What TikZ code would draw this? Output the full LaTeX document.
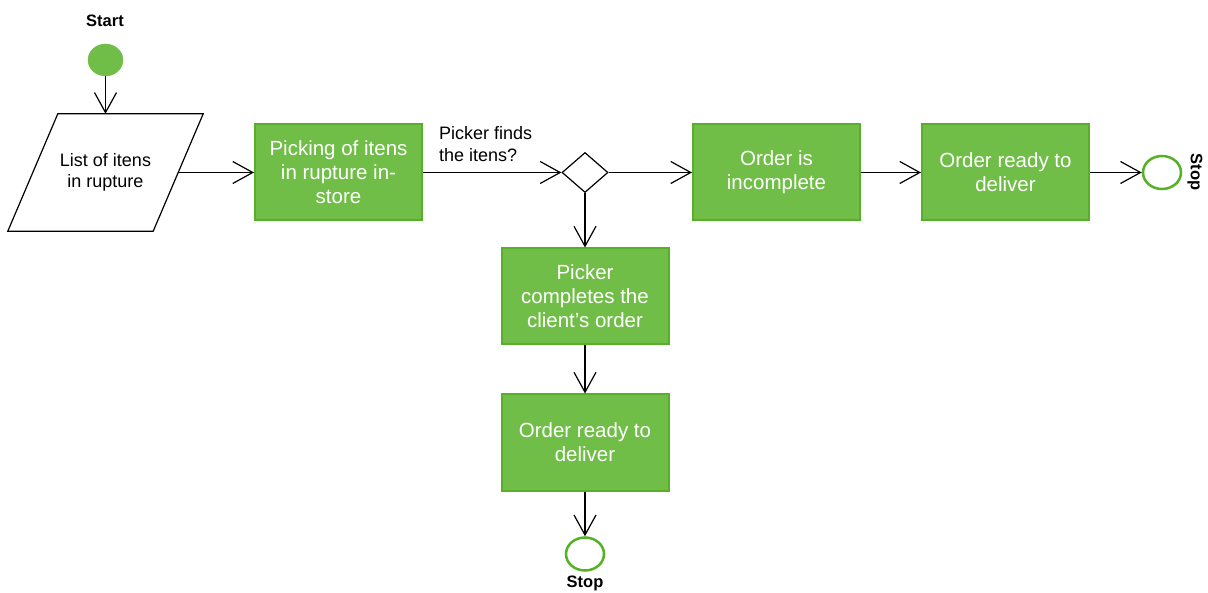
\documentclass[tikz,border=0pt]{standalone}
\usepackage{fontspec}
\setmainfont{Liberation Sans}
\usetikzlibrary{arrows.meta,shapes.geometric}
\definecolor{boxfill}{RGB}{112,190,72}
\definecolor{boxline}{RGB}{88,176,42}
\definecolor{ringline}{RGB}{84,178,36}
\tikzset{
  flow/.style={draw=black, line width=1.2pt, -{Straight Barb[length=20pt,width=22pt,line width=1.2pt]}},
  stepbox/.style={rectangle, draw=boxline, line width=2pt, fill=boxfill, text=white,
    minimum width=167pt, minimum height=96pt, inner sep=2pt, align=center,
    font=\fontsize{20.5}{24}\selectfont},
  startdot/.style={ellipse, fill=boxfill, draw=boxfill, minimum width=35pt, minimum height=32pt, inner sep=0pt},
  stopring/.style={ellipse, draw=ringline, fill=white, line width=2.5pt, minimum width=38pt, minimum height=33pt, inner sep=0pt},
  choice/.style={diamond, draw=black, line width=1.2pt, fill=white, minimum width=46pt, minimum height=40pt, inner sep=0pt},
  endlabel/.style={font=\bfseries\fontsize{16.5}{20}\selectfont},
  smalltext/.style={font=\fontsize{18}{22}\selectfont, align=left}
}
\begin{document}
\begin{tikzpicture}[x=1pt, y=-1pt]
\useasboundingbox (0,0) rectangle (1208,593);

% start point and input list
\node[endlabel] (startlbl) at (105,21) {Start};
\node[startdot] (start) at (105.5,60) {};
\node[rectangle, minimum width=145pt, minimum height=117pt, inner sep=0pt,
      font=\fontsize{18}{21}\selectfont, align=center] (list) at (105.5,172.5) {List of itens\\in rupture};
\draw[line width=1.2pt, line join=miter]
  ([xshift=-25pt]list.south west) -- ([xshift=25pt]list.north west) --
  ([xshift=25pt]list.north east) -- ([xshift=-25pt]list.south east) -- cycle;

% main row
\node[stepbox] (pick) at (338.5,172.5) {Picking of itens\\in rupture in-\\store};
\node[choice] (dec) at (585,172.5) {};
\node[smalltext, anchor=north west, inner sep=0pt] (question) at (439,126) {Picker finds\\the itens?};
\node[stepbox] (inc) at (776.5,172.5) {Order is\\incomplete};
\node[stepbox] (ready1) at (1005.5,172.5) {Order ready to\\deliver};
\node[stopring] (stop1) at (1162,172.5) {};
\node[endlabel, rotate=-90] (stoplbl1) at (1195,172) {Stop};

% lower branch
\node[stepbox] (picker) at (585,296.5) {Picker\\completes the\\client's order};
\node[stepbox] (ready2) at (585,442.5) {Order ready to\\deliver};
\node[stopring] (stop2) at (585,554) {};
\node[endlabel] (stoplbl2) at (585,583) {Stop};

% connectors
\draw[flow] (start) -- (list.north);
\draw[flow] (list.east) -- (pick.west);
\draw[flow] (pick.east) -- (dec.west);
\draw[flow] (dec.east) -- (inc.west);
\draw[flow] (inc.east) -- (ready1.west);
\draw[flow] (ready1.east) -- (stop1.west);
\draw[flow] (dec.south) -- (picker.north);
\draw[flow] (picker.south) -- (ready2.north);
\draw[flow] (ready2.south) -- (stop2.north);
\end{tikzpicture}
\end{document}
